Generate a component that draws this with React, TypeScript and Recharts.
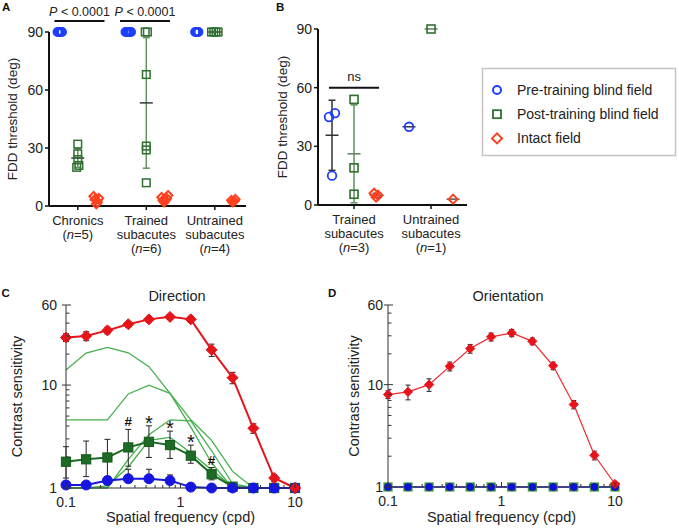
import React from 'react';
import { ScatterChart, Scatter, LineChart, Line, XAxis, YAxis, ErrorBar, ReferenceLine } from 'recharts';

const FONT = '"Liberation Sans", Arial, Helvetica, sans-serif';
const INK = '#222222';

// ---- A: FDD thresholds per patient group
const aGroupLabels = [['Chronics'], ['Trained', 'subacutes'], ['Untrained', 'subacutes']];
const aGroupN = [5, 6, 4];
const aPre = [[90, 90, 90, 90, 90], [90, 90, 90, 90, 90, 90], [90, 90, 90, 90]];
const aPost = [[32, 27, 24, 21, 20], [90, 90, 68, 31, 29, 12], [90, 90, 90, 90]];
const aIntact = [[5, 3.5, 2, 1, 4], [5.5, 4, 3, 2, 3, 4.5], [3.5, 2.5, 2, 3]];

// ---- B
const bGroupLabels = [['Trained', 'subacutes'], ['Untrained', 'subacutes']];
const bGroupN = [3, 1];
const bPre = [[47, 45, 15], [40]];
const bPost = [[54, 19, 5.5], [90]];
const bIntact = [[6, 4, 5], [3]];

const legendLabels = ['Pre-training blind field', 'Post-training blind field', 'Intact field'];

// ---- C / D: contrast sensitivity vs spatial frequency
const freq = [0.1, 0.15, 0.23, 0.35, 0.53, 0.81, 1.23, 1.87, 2.85, 4.33, 6.58, 10];
const logYTicks = [1, 2, 3, 4, 5, 6, 7, 8, 9, 10, 20, 30, 40, 50, 60];
const logXTicks = [0.1, 0.2, 0.3, 0.4, 0.5, 0.6, 0.7, 0.8, 0.9, 1, 2, 3, 4, 5, 6, 7, 8, 9, 10];

const dirIntact = [29, 30, 34, 39, 43.5, 46, 43.5, 22, 11.8, 3.8, 1.25, 1];
const dirIntactSem = [2.5, 3, 2.5, 2.5, 2.5, 2.5, 3, 3, 1.5, 0.4, 0.1, 0];
const dirPost = [1.8, 1.9, 1.98, 2.48, 2.81, 2.61, 2.06, 1.36, 1.03, 1, 1, 1];
const dirPostLow = [0.55, 0.61, 0.69, 0.85, 0.83, 0.67, 0.32, 0.16, 0.03, 0, 0, 0];
const dirPostHigh = [0.72, 0.96, 0.99, 1.23, 1.21, 0.96, 0.55, 0.22, 0.05, 0, 0, 0];
const dirPre = [1.07, 1.07, 1.18, 1.23, 1.23, 1.18, 1.02, 1, 1, 1, 1, 1];
const dirPreHigh = [0, 0, 0.1, 0.29, 0.29, 0.16, 0, 0, 0, 0, 0, 0];
const dirSubject1 = [14, 20.5, 23.2, 20.6, 15.1, 8.3, 3.9, 1.75, 1, 1];
const dirSubject2 = [4.6, 4.6, 4.6, 8.2, 10, 8.3, 4.6, 2.9, 1.45, 1];
const dirSubject3 = [1, 1, 1, 1.9, 3.3, 4.6, 4.5, 2.3, 1.1, 1];
const dirSubject4 = [1, 1, 1.05, 1.6, 2.9, 3.1, 2.2, 1.5, 1.02, 1];
const dirSig = ['', '', '', '#', '*', '*', '*', '#', '', '', '', ''];

const oriIntact = [8, 8.5, 10, 15.1, 22.5, 29.3, 32, 26.5, 15.3, 6.4, 2.04, 1.07];
const oriIntactSem = [0.7, 1.4, 1.4, 1.5, 2.2, 2.6, 2.6, 2, 1.3, 0.6, 0.2, 0.05];
const oriPost = [1, 1, 1, 1, 1, 1, 1, 1, 1, 1, 1, 1];
const oriPre = [1, 1, 1, 1, 1, 1, 1, 1, 1, 1, 1, 1];

const dirRows = freq.map((f, i) => ({
  f,
  intact: dirIntact[i],
  intactErr: dirIntactSem[i],
  post: dirPost[i],
  postErr: [dirPostLow[i], dirPostHigh[i]],
  pre: dirPre[i],
  preErr: [0, dirPreHigh[i]],
  s1: dirSubject1[i] ?? null,
  s2: dirSubject2[i] ?? null,
  s3: dirSubject3[i] ?? null,
  s4: dirSubject4[i] ?? null,
  sig: dirSig[i],
  sigY: dirSig[i] ? dirPost[i] + dirPostHigh[i] : null,
}));

const oriRows = freq.map((f, i) => ({
  f,
  intact: oriIntact[i],
  intactErr: oriIntactSem[i],
  post: oriPost[i],
  pre: oriPre[i],
}));

// spread points with (nearly) equal values sideways, offsets in px
function swarmPx(vals: number[], near: number, stepPx: number): number[] {
  const order = vals.map((_, i) => i).sort((a, b) => vals[a] - vals[b]);
  const offs = vals.map(() => 0);
  let cluster: number[] = [];
  const flush = () => {
    const raw = cluster.map((_, j) => (j % 2 ? 1 : -1) * Math.ceil(j / 2));
    const m = raw.reduce((s, r) => s + r, 0) / (raw.length || 1);
    cluster.forEach((idx, j) => {
      offs[idx] = (raw[j] - m) * stepPx;
    });
    cluster = [];
  };
  order.forEach((idx, k) => {
    if (k > 0 && vals[idx] - vals[order[k - 1]] >= near) flush();
    cluster.push(idx);
  });
  flush();
  return offs;
}

function groupPoints(groups: number[][], shift: number, unitPx: number, near: number, stepPx: number) {
  return groups.flatMap((vals, g) => {
    const offs = swarmPx(vals, near, stepPx);
    return vals.map((v, i) => ({ x: g + shift + offs[i] / unitPx, y: v }));
  });
}

function groupStats(groups: number[][], shift: number) {
  return groups.map((vals, g) => {
    const m = vals.reduce((s, v) => s + v, 0) / vals.length;
    const sd =
      vals.length > 1 ? Math.sqrt(vals.reduce((s, v) => s + (v - m) ** 2, 0) / (vals.length - 1)) : 0;
    return { x: g + shift, y: m, sd };
  });
}

function markerShape(kind: string, color: string, size: number, sw: number, fill = 'none') {
  return (p: any) => {
    const { cx, cy } = p;
    if (cx == null || cy == null) return <g key={p.index} />;
    if (kind === 'circle')
      return <circle key={p.index} cx={cx} cy={cy} r={size} fill={fill} stroke={color} strokeWidth={sw} />;
    if (kind === 'square')
      return (
        <rect key={p.index} x={cx - size} y={cy - size} width={2 * size} height={2 * size} fill={fill} stroke={color} strokeWidth={sw} />
      );
    return (
      <path
        key={p.index}
        d={`M${cx},${cy - size}L${cx + size},${cy}L${cx},${cy + size}L${cx - size},${cy}Z`}
        fill={fill}
        stroke={color}
        strokeWidth={sw}
      />
    );
  };
}

const meanTick = (color: string, half: number) => (p: any) =>
  <line x1={p.cx - half} x2={p.cx + half} y1={p.cy} y2={p.cy} stroke={color} strokeWidth={1.5} />;

const groupTick = (labels: string[][], ns: number[]) => (p: any) => {
  const { x, y, payload } = p;
  const i = Math.round(payload.value);
  return (
    <text x={x} y={y} textAnchor="middle" fontSize={13} fill={INK} fontFamily={FONT}>
      {labels[i].map((l, k) => (
        <tspan key={k} x={x} dy={k === 0 ? 14.5 : 14}>
          {l}
        </tspan>
      ))}
      <tspan x={x} dy={14}>(</tspan>
      <tspan fontStyle="italic">n</tspan>
      <tspan>={ns[i]})</tspan>
    </text>
  );
};

const yTitle = (text: string, dx: number, size: number) => (p: any) => {
  const vb = p.viewBox ?? {};
  const cx = (vb.x ?? 0) + dx;
  const cy = (vb.y ?? 0) + (vb.height ?? 0) / 2;
  return (
    <text x={cx} y={cy} transform={`rotate(-90 ${cx} ${cy})`} textAnchor="middle" dominantBaseline="central" fontSize={size} fill={INK} fontFamily={FONT}>
      {text}
    </text>
  );
};

const xTitle = (text: string, dy: number, size: number) => (p: any) => {
  const vb = p.viewBox ?? {};
  return (
    <text x={(vb.x ?? 0) + (vb.width ?? 0) / 2} y={(vb.y ?? 0) + dy} textAnchor="middle" dominantBaseline="central" fontSize={size} fill={INK} fontFamily={FONT}>
      {text}
    </text>
  );
};

const sigLabel = (text: string, italicFirst: boolean, rise: number, size: number) => (p: any) => {
  const vb = p.viewBox ?? {};
  const cx = (vb.x ?? 0) + (vb.width ?? 0) / 2;
  return (
    <text x={cx} y={(vb.y ?? 0) - rise} textAnchor="middle" fontSize={size} fill={INK} fontFamily={FONT}>
      {italicFirst ? (
        <>
          <tspan fontStyle="italic">{text[0]}</tspan>
          <tspan>{text.slice(1)}</tspan>
        </>
      ) : (
        text
      )}
    </text>
  );
};

const logYTick = (gap: number) => (p: any) => {
  const { x, y, payload } = p;
  const v = payload.value;
  const major = v === 1 || v === 10 || v === 60;
  return (
    <g>
      <line x1={major ? x - 4 : x} x2={x + (major ? 5 : 3.5)} y1={y} y2={y} stroke="#333" strokeWidth={1} />
      {major && (
        <text x={x - gap} y={y} dy="0.36em" textAnchor="end" fontSize={14} fill={INK} fontFamily={FONT}>
          {v}
        </text>
      )}
    </g>
  );
};

const logXTick = (p: any) => {
  const { x, y, payload } = p;
  const v = payload.value;
  const major = v === 0.1 || v === 1 || v === 10;
  return (
    <g>
      <line x1={x} x2={x} y1={y} y2={y - (major ? 5 : 3)} stroke="#333" strokeWidth={1} />
      {major && (
        <text x={x} y={y + 14} dy="0.36em" textAnchor="middle" fontSize={14} fill={INK} fontFamily={FONT}>
          {v}
        </text>
      )}
    </g>
  );
};

const sigDot = (p: any) => {
  const { cx, cy, payload, index } = p;
  if (cx == null || cy == null || !payload.sig) return <g key={index} />;
  const star = payload.sig === '*';
  return (
    <text
      key={index}
      x={cx}
      y={cy + (star ? 4 : -3)}
      textAnchor="middle"
      fontSize={star ? 20 : 13.5}
      fontWeight={star ? 'normal' : 'bold'}
      fill="#111"
      fontFamily={FONT}
    >
      {payload.sig}
    </text>
  );
};

type SeriesCfg = {
  groups: number[][];
  shift: number;
  kind: string;
  color: string;
  size: number;
  sw: number;
  near: number;
  step: number;
  stats: boolean;
  barColor: string;
  meanColor: string;
};

function DotPanel(props: {
  width: number;
  height: number;
  top: number;
  right: number;
  yAxisWidth: number;
  xAxisHeight: number;
  domainX: [number, number];
  unitPx: number;
  labels: string[][];
  ns: number[];
  series: SeriesCfg[];
  yTitleX: number;
  sig: { x1: number; x2: number; y: number; text: string; italic: boolean; rise: number; size: number }[];
}) {
  const ticks = props.labels.map((_, i) => i);
  return (
    <ScatterChart width={props.width} height={props.height} margin={{ top: props.top, right: props.right, bottom: 0, left: 0 }}>
      <XAxis
        dataKey="x"
        type="number"
        domain={props.domainX}
        ticks={ticks}
        interval={0}
        tick={groupTick(props.labels, props.ns)}
        tickSize={4}
        tickMargin={0}
        height={props.xAxisHeight}
        axisLine={{ stroke: '#111', strokeWidth: 2 }}
        tickLine={{ stroke: '#111', strokeWidth: 1.5 }}
      />
      <YAxis
        dataKey="y"
        type="number"
        domain={[0, 90]}
        ticks={[0, 30, 60, 90]}
        interval={0}
        width={props.yAxisWidth}
        tickSize={4}
        tickMargin={2}
        tick={{ fontSize: 14, fill: INK, fontFamily: FONT }}
        axisLine={{ stroke: '#111', strokeWidth: 2 }}
        tickLine={{ stroke: '#111', strokeWidth: 1.5 }}
        label={{ content: yTitle('FDD threshold (deg)', props.yTitleX, 13.5) }}
      />
      {props.sig.map((s, i) => (
        <ReferenceLine
          key={i}
          segment={[
            { x: s.x1, y: s.y },
            { x: s.x2, y: s.y },
          ]}
          ifOverflow="visible"
          stroke="#111"
          strokeWidth={2}
          label={{ content: sigLabel(s.text, s.italic, s.rise, s.size) }}
        />
      ))}
      {props.series
        .filter((s) => s.stats)
        .map((s, i) => (
          <Scatter key={`m${i}`} data={groupStats(s.groups, s.shift)} shape={meanTick(s.meanColor, 6.5)} isAnimationActive={false}>
            <ErrorBar dataKey="sd" direction="y" width={3.5} stroke={s.barColor} strokeWidth={1.5} isAnimationActive={false} />
          </Scatter>
        ))}
      {props.series.map((s, i) => (
        <Scatter
          key={`p${i}`}
          data={groupPoints(s.groups, s.shift, props.unitPx, s.near, s.step)}
          shape={markerShape(s.kind, s.color, s.size, s.sw)}
          isAnimationActive={false}
        />
      ))}
    </ScatterChart>
  );
}

const BLUE = '#1f3fff';
const GREEN = '#2f6f2f';
const RED = '#ff401f';

export default function App() {
  const aSeries: SeriesCfg[] = [
    { groups: aPre, shift: -0.263, kind: 'circle', color: BLUE, size: 4, sw: 2, near: 1, step: 1.1, stats: false, barColor: '#333', meanColor: '#333' },
    { groups: aPost, shift: 0, kind: 'square', color: GREEN, size: 3.8, sw: 1.5, near: 1.5, step: 2.2, stats: true, barColor: '#5f935f', meanColor: '#3a3a3a' },
    { groups: aIntact, shift: 0.27, kind: 'diamond', color: RED, size: 4.3, sw: 2, near: 2.5, step: 1.3, stats: true, barColor: '#555', meanColor: '#555' },
  ];
  const bSeries: SeriesCfg[] = [
    { groups: bPre, shift: -0.286, kind: 'circle', color: BLUE, size: 4.3, sw: 1.8, near: 3, step: 6, stats: true, barColor: '#333', meanColor: '#333' },
    { groups: bPost, shift: 0, kind: 'square', color: GREEN, size: 4, sw: 1.6, near: 3, step: 6, stats: true, barColor: '#5f935f', meanColor: '#5f7f5f' },
    { groups: bIntact, shift: 0.286, kind: 'diamond', color: RED, size: 4.5, sw: 2, near: 2.5, step: 2, stats: true, barColor: '#555', meanColor: '#555' },
  ];

  return (
    <div style={{ position: 'absolute', left: 0, top: 0, width: 679, height: 529, background: '#fff', fontFamily: FONT }}>
      <div style={{ position: 'absolute', left: 0, top: 0 }}>
        <DotPanel
          width={250}
          height={260}
          top={32}
          right={4}
          yAxisWidth={49}
          xAxisHeight={54}
          domainX={[-0.42, 2.455]}
          unitPx={68.5}
          labels={aGroupLabels}
          ns={aGroupN}
          series={aSeries}
          yTitleX={12.5}
          sig={[
            { x1: -0.34, x2: 0.39, y: 95.7, text: 'P < 0.0001', italic: true, rise: 5, size: 12.5 },
            { x1: 0.616, x2: 1.346, y: 95.7, text: 'P < 0.0001', italic: true, rise: 5, size: 12.5 },
          ]}
        />
      </div>
      <div style={{ position: 'absolute', left: 250, top: 0 }}>
        <DotPanel
          width={230}
          height={260}
          top={29}
          right={13}
          yAxisWidth={68}
          xAxisHeight={55}
          domainX={[-0.468, 1.467]}
          unitPx={77}
          labels={bGroupLabels}
          ns={bGroupN}
          series={bSeries}
          yTitleX={32}
          sig={[{ x1: -0.325, x2: 0.325, y: 60, text: 'ns', italic: false, rise: 6.5, size: 13 }]}
        />
      </div>

      <div style={{ position: 'absolute', left: 0, top: 280 }}>
        <LineChart width={310} height={250} data={dirRows} margin={{ top: 25, right: 15, bottom: 0, left: 0 }}>
          <XAxis
            dataKey="f"
            type="number"
            scale="log"
            domain={[0.1, 10]}
            ticks={logXTicks}
            interval={0}
            tick={logXTick}
            tickSize={0}
            tickMargin={0}
            tickLine={false}
            height={42}
            axisLine={{ stroke: '#333', strokeWidth: 1 }}
            label={{ content: xTitle('Spatial frequency (cpd)', 29, 14.5) }}
          />
          <YAxis
            type="number"
            scale="log"
            domain={[1, 60]}
            ticks={logYTicks}
            interval={0}
            width={66}
            tick={logYTick(9)}
            tickSize={0}
            tickMargin={0}
            tickLine={false}
            axisLine={{ stroke: '#333', strokeWidth: 1 }}
            label={{ content: yTitle('Contrast sensitivity', 17, 14.5) }}
          />
          <Line dataKey="s1" stroke="#44b04b" strokeWidth={1.3} dot={false} isAnimationActive={false} />
          <Line dataKey="s2" stroke="#44b04b" strokeWidth={1.3} dot={false} isAnimationActive={false} />
          <Line dataKey="s3" stroke="#44b04b" strokeWidth={1.3} dot={false} isAnimationActive={false} />
          <Line dataKey="s4" stroke="#44b04b" strokeWidth={1.3} dot={false} isAnimationActive={false} />
          <Line dataKey="post" stroke="#1d6b24" strokeWidth={2} dot={markerShape('square', '#145a1a', 4.6, 1, '#1d6b24')} isAnimationActive={false}>
            <ErrorBar dataKey="postErr" direction="y" width={3} stroke="#222" strokeWidth={1} isAnimationActive={false} />
          </Line>
          <Line dataKey="pre" stroke="#1616e0" strokeWidth={2} dot={markerShape('circle', '#1616e0', 5, 1, '#1616e0')} isAnimationActive={false}>
            <ErrorBar dataKey="preErr" direction="y" width={3} stroke="#222" strokeWidth={1} isAnimationActive={false} />
          </Line>
          <Line dataKey="intact" stroke="#e5141b" strokeWidth={2} dot={markerShape('diamond', '#e5141b', 5.5, 1, '#e5141b')} isAnimationActive={false}>
            <ErrorBar dataKey="intactErr" direction="y" width={3} stroke="#222" strokeWidth={1} isAnimationActive={false} />
          </Line>
          <Line dataKey="sigY" stroke="none" dot={sigDot} isAnimationActive={false} />
        </LineChart>
      </div>

      <div style={{ position: 'absolute', left: 340, top: 280 }}>
        <LineChart width={290} height={250} data={oriRows} margin={{ top: 25, right: 15, bottom: 0, left: 0 }}>
          <XAxis
            dataKey="f"
            type="number"
            scale="log"
            domain={[0.1, 10]}
            ticks={logXTicks}
            interval={0}
            tick={logXTick}
            tickSize={0}
            tickMargin={0}
            tickLine={false}
            height={43}
            axisLine={{ stroke: '#333', strokeWidth: 1 }}
            label={{ content: xTitle('Spatial frequency (cpd)', 30, 14.5) }}
          />
          <YAxis
            type="number"
            scale="log"
            domain={[1, 60]}
            ticks={logYTicks}
            interval={0}
            width={48}
            tick={logYTick(5)}
            tickSize={0}
            tickMargin={0}
            tickLine={false}
            axisLine={{ stroke: '#333', strokeWidth: 1 }}
            label={{ content: yTitle('Contrast sensitivity', 14, 14.5) }}
          />
          <Line dataKey="post" stroke="#2d6e2d" strokeWidth={2} dot={markerShape('square', '#3c9a3c', 4, 1.2, '#2d6e2d')} isAnimationActive={false} />
          <Line dataKey="pre" stroke="#5555d5" strokeWidth={2} dot={markerShape('circle', '#1010d8', 3.4, 1, '#1010d8')} isAnimationActive={false} />
          <Line dataKey="intact" stroke="#f0282d" strokeWidth={1.2} dot={markerShape('diamond', '#e8141b', 4.6, 1, '#e8141b')} isAnimationActive={false}>
            <ErrorBar dataKey="intactErr" direction="y" width={2.5} stroke="#222" strokeWidth={1} isAnimationActive={false} />
          </Line>
        </LineChart>
      </div>

      <svg width={679} height={529} style={{ position: 'absolute', left: 0, top: 0, pointerEvents: 'none' }} fontFamily={FONT}>
        <text x={2} y={10.5} fontSize={11.5} fontWeight="bold" fill="#111">A</text>
        <text x={276} y={11} fontSize={11.5} fontWeight="bold" fill="#111">B</text>
        <text x={1.5} y={297} fontSize={11.5} fontWeight="bold" fill="#111">C</text>
        <text x={328} y={297} fontSize={11.5} fontWeight="bold" fill="#111">D</text>
        <text x={177} y={301} textAnchor="middle" fontSize={14.5} fill={INK}>Direction</text>
        <text x={508} y={301} textAnchor="middle" fontSize={14.5} fill={INK}>Orientation</text>

        <rect x={482.5} y={68.5} width={193} height={87} fill="#fff" stroke="#c4c4c4" strokeWidth={1.5} />
        {legendLabels.map((label, i) => {
          const cy = 90 + i * 24.2;
          const cx = 497;
          return (
            <g key={label}>
              {i === 0 && <circle cx={cx} cy={cy} r={4} fill="none" stroke={BLUE} strokeWidth={2} />}
              {i === 1 && <rect x={cx - 4} y={cy - 4} width={8} height={8} fill="none" stroke={GREEN} strokeWidth={1.8} />}
              {i === 2 && (
                <path d={`M${cx},${cy - 5}L${cx + 5},${cy}L${cx},${cy + 5}L${cx - 5},${cy}Z`} fill="none" stroke={RED} strokeWidth={2} />
              )}
              <text x={517} y={cy + 5} fontSize={14} fill={INK}>
                {label}
              </text>
            </g>
          );
        })}
      </svg>
    </div>
  );
}
